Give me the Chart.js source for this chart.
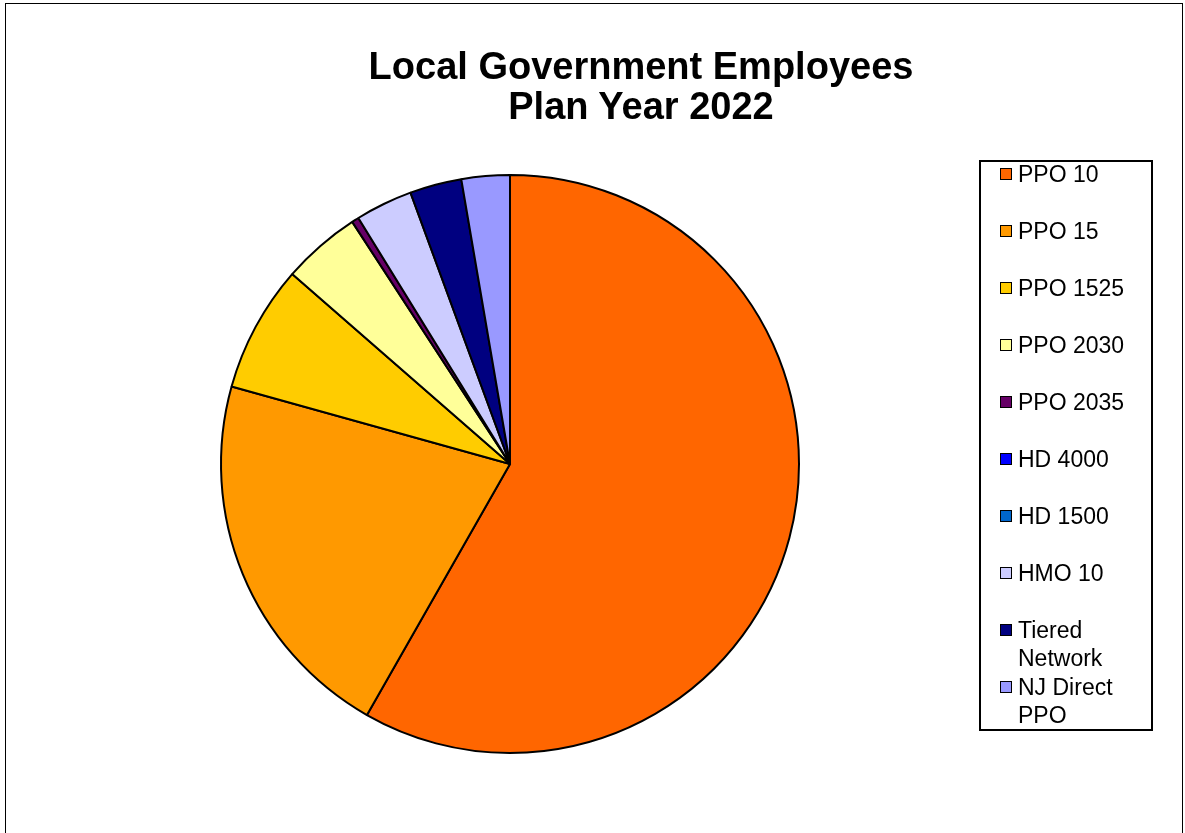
<!DOCTYPE html>
<html>
<head>
<meta charset="utf-8">
<script src="https://cdn.jsdelivr.net/npm/chart.js@4"></script>
<style>
  body { margin: 0; background: #fff; font-family: "Liberation Sans", Arial, sans-serif; }
  #wrap { position: relative; width: 1185px; height: 833px; overflow: hidden; }
  #frame { position: absolute; left: 5px; top: 3px; width: 1176px; height: 860px; border: 1px solid #000; }
  #title { position: absolute; left: 0; width: 1282px; top: 46px; text-align: center;
           font-weight: bold; font-size: 38px; line-height: 40px; color: #000; }
  #legend { position: absolute; left: 979px; top: 160px; width: 170px; height: 567px;
            border: 2px solid #000; box-sizing: content-box; }
  .item { position: absolute; left: 19px; font-size: 23px; line-height: 28px; color: #000; }
  .sw { position: absolute; left: 0; top: 8px; width: 10px; height: 10px; border: 1.5px solid #000; }
  .txt { position: absolute; left: 18px; top: 0; white-space: nowrap; }
  canvas { position: absolute; left: 0; top: 0; }
</style>
</head>
<body>
<div id="wrap">
  <div id="frame"></div>
  <canvas id="pieChart" width="1185" height="833"></canvas>
  <div id="title">Local Government Employees<br>Plan Year 2022</div>
  <div id="legend"></div>
</div>
<script>
// plan names, as in the legend (\n marks the wrapped lines)
var labels = [
    "PPO 10",
    "PPO 15",
    "PPO 1525",
    "PPO 2030",
    "PPO 2035",
    "HD 4000",
    "HD 1500",
    "HMO 10",
    "Tiered\nNetwork",
    "NJ Direct\nPPO"
];

// share of enrollment, percent
var shares = [58.3, 21.1, 7.1, 4.4, 0.4, 0, 0, 3.2, 2.9, 2.7];

var colors = [
    "#FF6600",
    "#FF9900",
    "#FFCC00",
    "#FFFF99",
    "#660066",
    "#0000FF",
    "#0066CC",
    "#CCCCFF",
    "#000080",
    "#9999FF"
];

var config = {
    type: 'pie',
    data: {
        labels: labels.map(function(l) { return l.replace("\n", " "); }),
        datasets: [{
            data: shares,
            backgroundColor: colors,
            borderColor: "#000000",
            borderWidth: 2
        }]
    },
    options: {
        responsive: false,
        animation: false,
        layout: {
            padding: { left: 220, right: 385, top: 174, bottom: 79 }
        },
        plugins: {
            legend: { display: false },
            tooltip: { enabled: false }
        }
    }
};

var ctx = document.getElementById("pieChart");
var myPie = new Chart(ctx, config);

// legend box on the right
var legend = document.getElementById("legend");
labels.forEach(function(label, i) {
    var item = document.createElement("div");
    item.className = "item";
    item.style.top = (i * 57 - 2) + "px";
    var sw = document.createElement("div");
    sw.className = "sw";
    sw.style.background = colors[i];
    var txt = document.createElement("div");
    txt.className = "txt";
    txt.innerHTML = label.replace("\n", "<br>");
    item.appendChild(sw);
    item.appendChild(txt);
    legend.appendChild(item);
});
</script>
</body>
</html>
